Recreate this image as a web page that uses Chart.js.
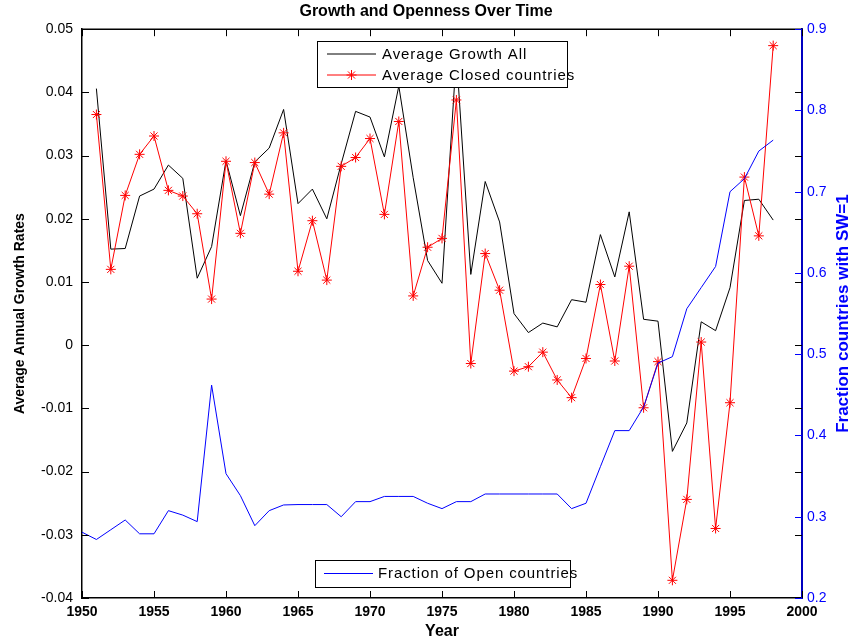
<!DOCTYPE html>
<html lang="en">
<head>
<meta charset="UTF-8">
<title>Growth and Openness Over Time</title>
<script src="https://cdn.jsdelivr.net/npm/chart.js"></script>
<style>
  body { margin: 0; background: #fff; }
  #wrap { width: 852px; height: 641px; }
</style>
</head>
<body>
<div id="wrap"><canvas id="growthChart" width="852" height="641"></canvas></div>
<script>
// yearly series, 1950-1998 (no growth figures for 1950)
const years = [1950, 1951, 1952, 1953, 1954, 1955, 1956, 1957, 1958, 1959,
               1960, 1961, 1962, 1963, 1964, 1965, 1966, 1967, 1968, 1969,
               1970, 1971, 1972, 1973, 1974, 1975, 1976, 1977, 1978, 1979,
               1980, 1981, 1982, 1983, 1984, 1985, 1986, 1987, 1988, 1989,
               1990, 1991, 1992, 1993, 1994, 1995, 1996, 1997, 1998];

const growthAll = [null, 0.0406, 0.0152, 0.0153, 0.0236, 0.0247, 0.0285, 0.0264, 0.0106, 0.0156,
                   0.0292, 0.0205, 0.0290, 0.0312, 0.0373, 0.0224, 0.0247, 0.0200, 0.0287, 0.0370,
                   0.0361, 0.0298, 0.0410, 0.0265, 0.0134, 0.0098, 0.0460, 0.0112, 0.0259, 0.0195,
                   0.0050, 0.0020, 0.0035, 0.0029, 0.0072, 0.0068, 0.0175, 0.0108, 0.0211, 0.0041,
                   0.0038, -0.0168, -0.0123, 0.0037, 0.0023, 0.0091, 0.0229, 0.0231, 0.0198];

const growthClosed = [null, 0.0365, 0.0120, 0.0237, 0.0302, 0.0331, 0.0245, 0.0236, 0.0208, 0.0073,
                      0.0291, 0.0177, 0.0289, 0.0239, 0.0336, 0.0117, 0.0197, 0.0103, 0.0283, 0.0297,
                      0.0327, 0.0207, 0.0354, 0.0078, 0.0155, 0.0169, 0.0388, -0.0029, 0.0145, 0.0087,
                      -0.0041, -0.0034, -0.0011, -0.0055, -0.0083, -0.0021, 0.0096, -0.0025, 0.0125, -0.0099,
                      -0.0026, -0.0372, -0.0244, 0.0005, -0.0290, -0.0091, 0.0266, 0.0173, 0.0474];

const openShare = [0.281, 0.272, 0.284, 0.296, 0.279, 0.279, 0.3075, 0.302, 0.294, 0.462,
                   0.353, 0.326, 0.289, 0.3075, 0.3145, 0.315, 0.315, 0.315, 0.300, 0.3186,
                   0.3186, 0.325, 0.325, 0.325, 0.3166, 0.310, 0.3186, 0.3186, 0.328, 0.328,
                   0.328, 0.328, 0.328, 0.328, 0.310, 0.3166, 0.3616, 0.406, 0.406, 0.435,
                   0.489, 0.497, 0.556, 0.582, 0.608, 0.700, 0.716, 0.750, 0.7635];

// axis tick labels
const yearLabels = ['1950', '1955', '1960', '1965', '1970', '1975', '1980', '1985', '1990', '1995', '2000'];
const growthLabels = ['-0.04', '-0.03', '-0.02', '-0.01', '0', '0.01', '0.02', '0.03', '0.04', '0.05'];
const shareLabels = ['0.2', '0.3', '0.4', '0.5', '0.6', '0.7', '0.8', '0.9'];

const FONT = "'Liberation Sans', Arial, Helvetica, sans-serif";
const BLUE = '#0000ff';

Chart.defaults.font.family = FONT;
Chart.defaults.color = '#000';

const toPoints = vals => years.map((yr, i) => ({ x: yr, y: vals[i] }));
const fixedTicks = labels => scale => { scale.ticks = labels.map(l => ({ value: Number(l) })); };
const labelFor = labels => v => labels.find(l => Number(l) === v) ?? '';

// MATLAB-style inward tick marks on all four sides, plus the top edge of the box
const frameTicks = {
  id: 'frameTicks',
  afterDraw(chart) {
    const { ctx, chartArea: a, scales } = chart;
    const len = 7;
    ctx.save();
    ctx.lineWidth = 1;
    ctx.strokeStyle = '#000';
    ctx.beginPath();
    scales.x.ticks.forEach(t => {
      const px = Math.round(scales.x.getPixelForValue(t.value)) + 0.5;
      ctx.moveTo(px, a.bottom); ctx.lineTo(px, a.bottom - len);
      ctx.moveTo(px, a.top); ctx.lineTo(px, a.top + len);
    });
    scales.y.ticks.forEach(t => {
      const py = Math.round(scales.y.getPixelForValue(t.value)) + 0.5;
      ctx.moveTo(a.left, py); ctx.lineTo(a.left + len, py);
      ctx.moveTo(a.right, py); ctx.lineTo(a.right - len, py);
    });
    ctx.stroke();
    ctx.lineWidth = 1.5;
    ctx.beginPath();
    ctx.moveTo(a.left, a.top); ctx.lineTo(a.right, a.top);
    ctx.stroke();
    ctx.lineWidth = 1;
    ctx.strokeStyle = BLUE;
    ctx.beginPath();
    scales.y1.ticks.forEach(t => {
      const py = Math.round(scales.y1.getPixelForValue(t.value)) + 0.5;
      ctx.moveTo(a.right, py); ctx.lineTo(a.right - len, py);
    });
    ctx.stroke();

    // right axis title, reading bottom to top like the left one
    ctx.fillStyle = BLUE;
    ctx.font = 'bold 17px ' + FONT;
    ctx.textAlign = 'center';
    ctx.textBaseline = 'middle';
    ctx.translate(843, (a.top + a.bottom) / 2);
    ctx.rotate(-Math.PI / 2);
    ctx.fillText('Fraction countries with SW=1', 0, 0);
    ctx.restore();
  }
};

// boxed legends drawn inside the plot area
const boxLegends = {
  id: 'boxLegends',
  afterDatasetsDraw(chart, args, opts) {
    const { ctx } = chart;
    const sets = chart.data.datasets;
    opts.boxes.forEach(box => {
      ctx.save();
      ctx.fillStyle = '#fff';
      ctx.fillRect(box.x, box.y, box.w, box.h);
      ctx.strokeStyle = '#000';
      ctx.lineWidth = 1;
      ctx.strokeRect(box.x + 0.5, box.y + 0.5, box.w, box.h);
      ctx.font = '15px ' + FONT;
      ctx.textBaseline = 'middle';
      ctx.letterSpacing = '0.9px';
      box.items.forEach((idx, row) => {
        const d = sets[idx];
        const cy = box.y + box.first + row * box.rowH;
        const x0 = box.x + box.lineStart;
        const x1 = x0 + box.lineLen;
        ctx.strokeStyle = d.borderColor;
        ctx.lineWidth = 1;
        ctx.beginPath();
        ctx.moveTo(x0, cy); ctx.lineTo(x1, cy);
        ctx.stroke();
        if (d.pointRadius) {
          Chart.helpers.drawPoint(ctx, {
            pointStyle: d.pointStyle, radius: d.pointRadius, rotation: 0, borderWidth: 1
          }, (x0 + x1) / 2, cy);
        }
        ctx.fillStyle = '#000';
        ctx.fillText(d.label, box.x + box.textStart, cy + 0.5);
      });
      ctx.restore();
    });
  }
};

new Chart(document.getElementById('growthChart'), {
  type: 'line',
  data: {
    datasets: [
      {
        label: 'Average Growth All',
        data: toPoints(growthAll),
        borderColor: '#000',
        borderWidth: 1,
        pointRadius: 0,
        yAxisID: 'y',
        order: 2
      },
      {
        label: 'Average Closed countries',
        data: toPoints(growthClosed),
        borderColor: '#ff0000',
        borderWidth: 1,
        pointStyle: 'star',
        pointRadius: 5,
        pointBorderColor: '#ff0000',
        pointBorderWidth: 1,
        yAxisID: 'y',
        order: 1
      },
      {
        label: 'Fraction of Open countries',
        data: toPoints(openShare),
        borderColor: BLUE,
        borderWidth: 1,
        pointRadius: 0,
        yAxisID: 'y1',
        order: 0
      }
    ]
  },
  options: {
    responsive: false,
    animation: false,
    layout: { padding: 0 },
    elements: { line: { tension: 0 } },
    plugins: {
      legend: { display: false },
      tooltip: { enabled: false },
      title: {
        display: true,
        text: 'Growth and Openness Over Time',
        color: '#000',
        font: { size: 16, weight: 'bold' },
        padding: { top: 2, bottom: 8 }
      },
      boxLegends: {
        boxes: [
          { x: 317, y: 41, w: 250, h: 46, first: 13, rowH: 21, lineStart: 10, lineLen: 49, textStart: 65, items: [0, 1] },
          { x: 315, y: 560, w: 255, h: 27, first: 13.5, rowH: 21, lineStart: 9, lineLen: 49, textStart: 63, items: [2] }
        ]
      }
    },
    scales: {
      x: {
        type: 'linear',
        min: 1950,
        max: 2000,
        afterBuildTicks: fixedTicks(yearLabels),
        afterFit: s => { s.height = 43; },
        grid: { display: false, drawTicks: false },
        border: { color: '#000', width: 1.5 },
        ticks: {
          color: '#000',
          font: { size: 14, weight: 'bold' },
          padding: 6,
          maxRotation: 0,
          autoSkip: false,
          callback: labelFor(yearLabels)
        },
        title: {
          display: true,
          text: 'Year',
          color: '#000',
          font: { size: 16, weight: 'bold' },
          padding: { top: 0, bottom: 0 }
        }
      },
      y: {
        position: 'left',
        min: -0.04,
        max: 0.05,
        afterBuildTicks: fixedTicks(growthLabels),
        afterFit: s => { s.width = 82; },
        grid: { display: false, drawTicks: false },
        border: { color: '#000', width: 1.5 },
        ticks: {
          color: '#000',
          font: { size: 14 },
          padding: 9,
          autoSkip: false,
          callback: labelFor(growthLabels)
        },
        title: {
          display: true,
          text: 'Average Annual Growth Rates',
          color: '#000',
          font: { size: 14, weight: 'bold' },
          padding: { top: 12, bottom: 0 }
        }
      },
      y1: {
        position: 'right',
        min: 0.2,
        max: 0.9,
        afterBuildTicks: fixedTicks(shareLabels),
        afterFit: s => { s.width = 50; },
        grid: { display: false, drawTicks: false },
        border: { color: '#0000c0', width: 2 },
        ticks: {
          color: BLUE,
          font: { size: 14 },
          padding: 5,
          autoSkip: false,
          callback: labelFor(shareLabels)
        },
        title: { display: false }
      }
    }
  },
  plugins: [frameTicks, boxLegends]
});
</script>
</body>
</html>
